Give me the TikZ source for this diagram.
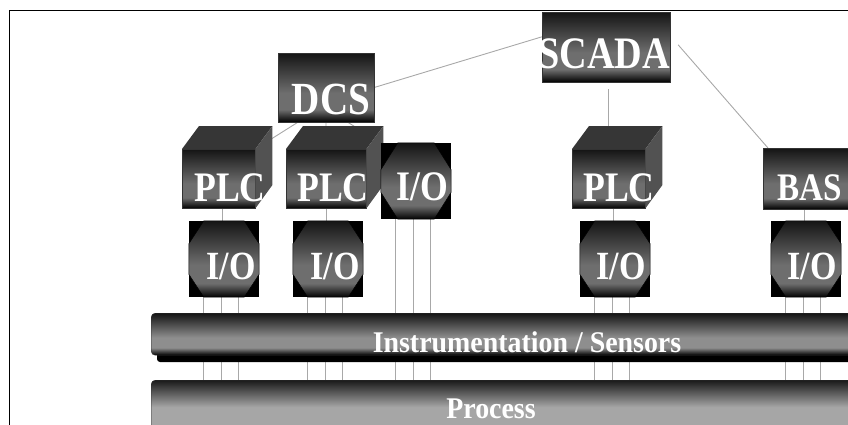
\documentclass[tikz,border=0pt]{standalone}
\usepackage{fontspec}
\newfontfamily\boxfont[FakeStretch=0.85]{Liberation Serif}
\newfontfamily\barfont[FakeStretch=0.93]{Liberation Serif}
\usetikzlibrary{calc,positioning,backgrounds}
\definecolor{wire}{HTML}{A8A8A8}
\definecolor{boxmid}{HTML}{6E6E6E}
\definecolor{barmid}{HTML}{8E8E8E}
\definecolor{procmid}{HTML}{A6A6A6}
\definecolor{cubetop}{HTML}{363636}
\definecolor{cubeside}{HTML}{525252}
\pgfdeclareverticalshading{boxshade}{100bp}{color(0bp)=(black); color(25bp)=(black); color(34bp)=(boxmid); color(46bp)=(boxmid); color(75bp)=(black!92); color(100bp)=(black!92)}
\pgfdeclareverticalshading{barshade}{100bp}{color(0bp)=(black); color(25bp)=(black); color(34bp)=(barmid); color(46bp)=(barmid); color(75bp)=(black!92); color(100bp)=(black!92)}
\pgfdeclareverticalshading{procshade}{100bp}{color(0bp)=(black); color(25bp)=(black); color(30bp)=(procmid); color(48bp)=(procmid); color(75bp)=(black!90); color(100bp)=(black!90)}
\tikzset{link/.style={draw=wire,line width=.9pt}, hostbox/.style={draw=black!80,line width=.4pt,shading=boxshade,inner sep=0pt}, iorect/.style={fill=black,inner sep=0pt,minimum width=70pt,minimum height=76pt}, octa/.style={draw=black,line width=.5pt,shading=boxshade}, boxtext/.style={font=\boxfont\bfseries\fontsize{40}{40}\selectfont,text=white,anchor=base,inner sep=0pt}, bartext/.style={font=\barfont\bfseries\fontsize{30}{30}\selectfont,text=white,anchor=base,inner sep=0pt}, busbar/.style={draw=black!80,line width=.4pt,rounded corners=4pt,anchor=north west,minimum width=780pt,inner sep=0pt}}
\newcommand{\plccube}[4]{%
  \node[hostbox,anchor=north west,minimum width=#4pt,minimum height=59pt] (#1) at (#2,#3) {};
  \fill[cubetop] (#1.north west) -- ++(17,-23) -- ($(#1.north east)+(17,-23)$) -- (#1.north east) -- cycle;
  \fill[cubeside] (#1.north east) -- ++(17,-23) -- ++(0,59) -- (#1.south east) -- cycle;}
\newcommand{\iobox}[5]{%
  \node[iorect] (#1) at (#2,#3) {};
  \shade[octa] ($(#1.north west)+(#4,0)$) -- ($(#1.north east)+(-#4,0)$) -- ($(#1.north east)+(0,#5)$) -- ($(#1.south east)+(0,-#5)$) -- ($(#1.south east)+(-#4,0)$) -- ($(#1.south west)+(#4,0)$) -- ($(#1.south west)+(0,-#5)$) -- ($(#1.north west)+(0,#5)$) -- cycle;}

\begin{document}
\begin{tikzpicture}[x=1pt,y=-1pt]
\useasboundingbox (0,0) rectangle (848,424);
\clip (0,0) rectangle (848,424);
\draw[black,line width=.8pt] (9.5,430) |- (860,10.5);

\node[hostbox,minimum width=128pt,minimum height=70pt] (scada) at (606,47) {};
\node[hostbox,minimum width=96pt,minimum height=69pt] (dcs) at (326,87.5) {};
\plccube{plcA}{182}{149}{73}
\plccube{plcB}{286}{149}{80}
\plccube{plcC}{572}{149}{73}
\node[hostbox,anchor=north west,minimum width=90pt,minimum height=61pt] (bas) at (763,148) {};
\iobox{ioT}{416}{181}{17}{27}
\iobox{ioA}{224}{259}{15}{23}
\iobox{ioB}{328}{259}{15}{23}
\iobox{ioC}{615}{259}{15}{23}
\iobox{ioD}{806}{259}{15}{23}

\fill[black,rounded corners=3pt] (157,320) rectangle (930,362);
\node[busbar,shading=barshade,minimum height=42pt] (instr) at (151,313) {};
\node[busbar,shading=procshade,minimum height=50pt] (process) at (151,380) {};

\node[boxtext,font=\boxfont\bfseries\fontsize{45}{45}\selectfont] (scadalbl) at (604,68) {SCADA};
\node[boxtext,font=\boxfont\bfseries\fontsize{46}{46}\selectfont] (dcslbl) at (331,114) {DCS};
\node[boxtext,font=\boxfont\bfseries\fontsize{42}{42}\selectfont] (plcAlbl) at (230,201) {PLC};
\node[boxtext,font=\boxfont\bfseries\fontsize{42}{42}\selectfont] (plcBlbl) at (333,201) {PLC};
\node[boxtext,font=\boxfont\bfseries\fontsize{42}{42}\selectfont] (plcClbl) at (619,201) {PLC};
\node[boxtext,font=\boxfont\bfseries\fontsize{39}{39}\selectfont] (baslbl) at (810,200) {BAS};
\node[boxtext,font=\boxfont\bfseries\fontsize{42}{42}\selectfont] (ioTlbl) at (422,200) {I/O};
\node[boxtext] (ioAlbl) at (231,279) {I/O};
\node[boxtext] (ioBlbl) at (335,279) {I/O};
\node[boxtext] (ioClbl) at (621,279) {I/O};
\node[boxtext] (ioDlbl) at (812,279) {I/O};
\node[bartext] (instrlbl) at (527,352) {Instrumentation / Sensors};
\node[bartext] (processlbl) at (491,418) {Process};

\begin{scope}[on background layer]
\draw[link] (dcs.east) -- (scada.171);
\draw[link,shorten <=7pt] (scada.south -| plcC.north) -- ++(0,44);
\draw[link,shorten <=12pt] (scada.10) -- ([xshift=5pt]bas.north west);
\draw[link] (dcs.231) -- (plcA.north east);
\draw[link] (dcs.south) -- (plcB.north);
\draw[link] (dcs.302) -- (ioT.north west);
\foreach \p/\i in {plcA/ioA,plcB/ioB,plcC/ioC,bas/ioD}
  \draw[link] ([xshift=-2pt]\i.north) -- ([xshift=-2pt]\i.north |- \p.south);
\foreach \i in {ioT,ioA,ioB,ioC,ioD}
  \foreach \dx in {-21,-3,14}
    \draw[link] ([xshift=\dx pt]\i.south) -- ([xshift=\dx pt]\i.south |- process.south);
\end{scope}
\end{tikzpicture}
\end{document}
